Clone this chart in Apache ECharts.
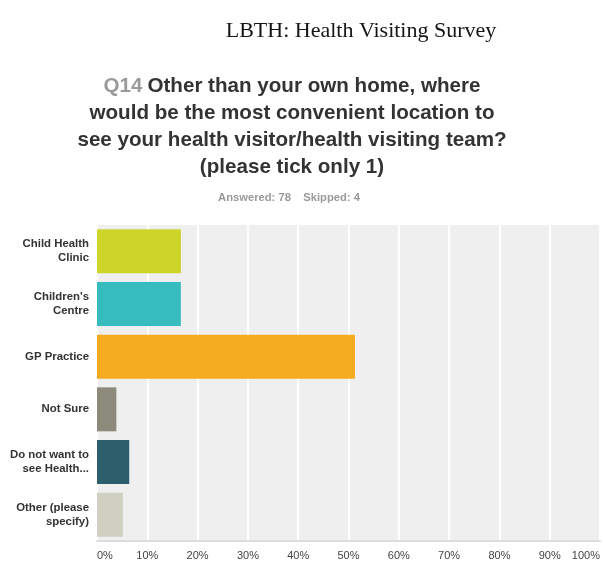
<!DOCTYPE html>
<html>
<head>
<meta charset="utf-8">
<script src="https://cdn.jsdelivr.net/npm/echarts@6/dist/echarts.min.js"></script>
<style>
  html, body { margin: 0; padding: 0; background: #ffffff; }
  #chart { width: 603px; height: 564px; }
</style>
</head>
<body>
<div id="chart"></div>
<script>
// Answer options (as printed beside each bar)
const categories = [
  'Child Health\nClinic',
  'Children\'s\nCentre',
  'GP Practice',
  'Not Sure',
  'Do not want to\nsee Health...',
  'Other (please\nspecify)'
];
// Share of the 78 respondents choosing each option, in percent
const percents = [16.67, 16.67, 51.28, 3.85, 6.41, 5.13];
// Tick labels along the percentage axis
const tickValues = [0, 10, 20, 30, 40, 50, 60, 70, 80, 90, 100];
// One colour per answer option
const palette = ['#cdd52b', '#36bcbf', '#f5ab1f', '#8b8a7b', '#2d5e6b', '#cfcfc2'];

const chart = echarts.init(document.getElementById('chart'), null, { renderer: 'canvas' });

chart.setOption({
  backgroundColor: '#ffffff',
  animation: false,
  title: [
    {
      text: 'LBTH: Health Visiting Survey',
      left: 356,
      top: 15,
      textAlign: 'center',
      textStyle: {
        fontFamily: '"Liberation Serif", "Times New Roman", serif',
        fontSize: 22,
        fontWeight: 'normal',
        color: '#151515'
      }
    },
    {
      text: '{q|Q14} {t|Other than your own home, where}\n' +
            '{t|would be the most convenient location to}\n' +
            '{t|see your health visitor/health visiting team?}\n' +
            '{t|(please tick only 1)}',
      left: 287,
      top: 68,
      textAlign: 'center',
      textStyle: {
        align: 'center',
        rich: {
          q: {
            fontFamily: '"Liberation Sans", Arial, sans-serif',
            fontSize: 20.6, fontWeight: 'bold', color: '#9a9a9a', lineHeight: 27
          },
          t: {
            fontFamily: '"Liberation Sans", Arial, sans-serif',
            fontSize: 20.6, fontWeight: 'bold', color: '#333333', lineHeight: 27
          }
        }
      }
    },
    {
      text: 'Answered: 78    Skipped: 4',
      left: 284,
      top: 187,
      textAlign: 'center',
      textStyle: {
        fontFamily: '"Liberation Sans", Arial, sans-serif',
        fontSize: 11.2,
        fontWeight: 'bold',
        color: '#9a9a9a'
      }
    }
  ],
  grid: {
    left: 97,
    right: 2,
    top: 225,
    bottom: 23,
    show: true,
    backgroundColor: '#efefef',
    borderWidth: 0
  },
  xAxis: {
    type: 'value',
    min: 0,
    max: 100,
    interval: 10,
    axisLine: { show: true, lineStyle: { color: '#dcdcdc', width: 2 } },
    axisTick: { show: false },
    splitLine: { show: true, lineStyle: { color: '#ffffff', width: 2 } },
    axisLabel: {
      margin: 9,
      fontFamily: '"Liberation Sans", Arial, sans-serif',
      fontSize: 11,
      color: '#444444',
      alignMinLabel: 'left',
      alignMaxLabel: 'right',
      customValues: tickValues,
      formatter: '{value}%'
    }
  },
  yAxis: {
    type: 'category',
    inverse: true,
    data: categories,
    axisLine: { show: false },
    axisTick: { show: false },
    splitLine: { show: false },
    axisLabel: {
      margin: 8,
      fontFamily: '"Liberation Sans", Arial, sans-serif',
      fontSize: 11.4,
      fontWeight: 'bold',
      color: '#333333',
      lineHeight: 14,
      align: 'right'
    }
  },
  series: [{
    type: 'bar',
    data: percents.map((v, i) => ({ value: v, itemStyle: { color: palette[i] } })),
    barCategoryGap: '16.5%',
    silent: true
  }]
});
</script>
</body>
</html>
